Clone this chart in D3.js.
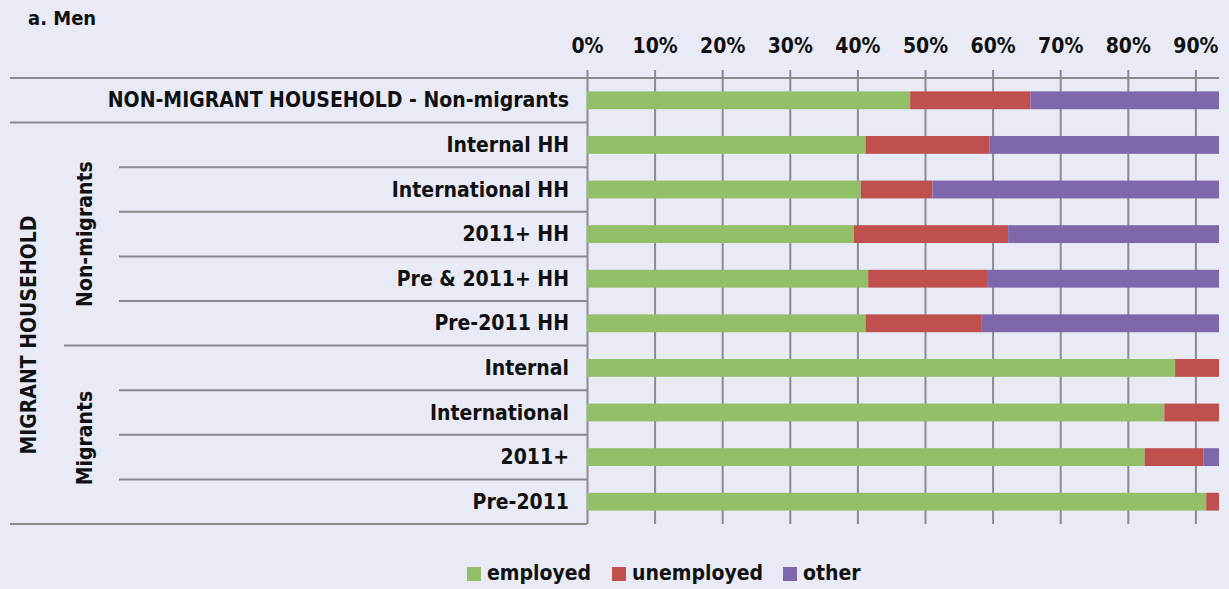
<!DOCTYPE html>
<html>
<head>
<meta charset="utf-8">
<script src="https://cdn.jsdelivr.net/npm/d3@7"></script>
<style>
  html, body { margin: 0; padding: 0; background: #e8ebf5; }
  svg text { font-family: "Liberation Sans Narrow", "DejaVu Sans Condensed", "Arial Narrow", sans-serif; font-weight: bold; fill: #111; }
</style>
</head>
<body>
<div class="chart"></div>
<script>
// data (percent of men)
const categories = [
  'NON-MIGRANT HOUSEHOLD - Non-migrants',
  'Internal HH', 'International HH', '2011+ HH', 'Pre & 2011+ HH', 'Pre-2011 HH',
  'Internal', 'International', '2011+', 'Pre-2011'
]
const employed   = [47.8, 41.2, 40.5, 39.5, 41.6, 41.2, 87.0, 85.4, 82.5, 91.6]
const unemployed = [17.8, 18.3, 10.6, 22.8, 17.7, 17.1, 13.0, 14.6, 8.7, 8.4]
const other      = [34.4, 40.5, 48.9, 37.7, 40.7, 41.7, 0, 0, 8.8, 0]
const statuses = ['employed', 'unemployed', 'other']
const tickValues = [0, 10, 20, 30, 40, 50, 60, 70, 80, 90]

const width = 1229, height = 589

const svg = d3.select('.chart')
  .append('svg')
    .attr('width', width)
    .attr('height', height)

svg.append('rect')
  .attr('width', width).attr('height', height)
  .style('fill', '#e8ebf5')

const rows = categories.map((c, i) => ({
  cat: c, employed: employed[i], unemployed: unemployed[i], other: other[i]
}))

//scales
const xScale = d3.scaleLinear().domain([0, 100]).range([587, 1263])
const yScale = d3.scaleBand()
  .domain(categories)
  .range([78, 524])
  .paddingInner(0.6)
  .paddingOuter(0.3)

const colors = d3.scaleOrdinal()
  .domain(statuses)
  .range(['#93bf69', '#c0504d', '#7f67ab'])

const clipRight = 1219

svg.append('clipPath')
  .attr('id', 'plot-clip')
  .append('rect')
    .attr('x', 0).attr('y', 0)
    .attr('width', clipRight).attr('height', height)

const plot = svg.append('g').attr('clip-path', 'url(#plot-clip)')

// title
svg.append('text')
  .attr('x', 28).attr('y', 25)
  .style('font-size', '20px')
  .text('a. Men')

// grid lines (vertical)
plot.append('g')
  .attr('transform', 'translate(0, 70)')
  .call(d3.axisBottom(xScale).tickValues(tickValues).tickSize(454).tickFormat(''))
  .call(g => g.select('.domain').remove())
  .call(g => g.selectAll('line').style('stroke', '#8a8a8f').style('stroke-width', 2))

// tick labels on top
svg.append('g')
  .attr('transform', 'translate(0, 53)')
  .call(d3.axisTop(xScale).tickValues(tickValues).tickSize(0).tickPadding(0)
        .tickFormat(d => d + '%'))
  .call(g => g.select('.domain').remove())
  .call(g => g.selectAll('text')
        .style('font-size', '21px')
        .style('font-family', null)
        .attr('dy', 0))

// separators between categories
const step = yScale.step()
const bound = i => 78 + i * step
const separators = [
  { y: bound(0), x0: 10, x1: clipRight },
  { y: bound(1), x0: 10, x1: 587 },
  { y: bound(2), x0: 119, x1: 587 },
  { y: bound(3), x0: 119, x1: 587 },
  { y: bound(4), x0: 119, x1: 587 },
  { y: bound(5), x0: 119, x1: 587 },
  { y: bound(6), x0: 64, x1: 587 },
  { y: bound(7), x0: 119, x1: 587 },
  { y: bound(8), x0: 119, x1: 587 },
  { y: bound(9), x0: 119, x1: 587 },
  { y: bound(10), x0: 10, x1: 587 }
]
svg.selectAll('line.sep')
  .data(separators)
  .enter()
  .append('line')
    .attr('class', 'sep')
    .attr('x1', d => d.x0).attr('x2', d => d.x1)
    .attr('y1', d => d.y).attr('y2', d => d.y)
    .style('stroke', '#8a8a8f')
    .style('stroke-width', 2)

// bars
const series = d3.stack().keys(statuses)(rows)
plot.selectAll('g.series')
  .data(series)
  .enter()
  .append('g')
    .attr('class', 'series')
    .style('fill', d => colors(d.key))
  .selectAll('rect')
  .data(d => d)
  .enter()
  .append('rect')
    .attr('x', d => xScale(d[0]))
    .attr('y', d => yScale(d.data.cat))
    .attr('width', d => xScale(d[1]) - xScale(d[0]))
    .attr('height', yScale.bandwidth())

// category labels
svg.selectAll('text.cat')
  .data(categories)
  .enter()
  .append('text')
    .attr('class', 'cat')
    .attr('x', 569)
    .attr('y', d => yScale(d) + yScale.bandwidth() / 2 + 7)
    .style('text-anchor', 'end')
    .style('font-size', '21px')
    .text(d => d)

// group labels (rotated)
const groups = [
  { label: 'MIGRANT HOUSEHOLD', x: 36, y: 335 },
  { label: 'Non-migrants', x: 92, y: (bound(1) + bound(6)) / 2 },
  { label: 'Migrants', x: 92, y: 438 }
]
svg.selectAll('text.grp')
  .data(groups)
  .enter()
  .append('text')
    .attr('class', 'grp')
    .attr('transform', d => `translate(${d.x}, ${d.y}) rotate(-90)`)
    .style('text-anchor', 'middle')
    .style('font-size', '21px')
    .text(d => d.label)

// legend
const legendX = [467, 612, 783]
svg.selectAll('rect.legend')
  .data(statuses)
  .enter()
  .append('rect')
    .attr('class', 'legend')
    .attr('x', (d, i) => legendX[i])
    .attr('y', 567)
    .attr('width', 14)
    .attr('height', 14)
    .style('fill', d => colors(d))

svg.selectAll('text.legend')
  .data(statuses)
  .enter()
  .append('text')
    .attr('class', 'legend')
    .attr('x', (d, i) => legendX[i] + 20)
    .attr('y', 580)
    .style('font-size', '21px')
    .text(d => d)
</script>
</body>
</html>
